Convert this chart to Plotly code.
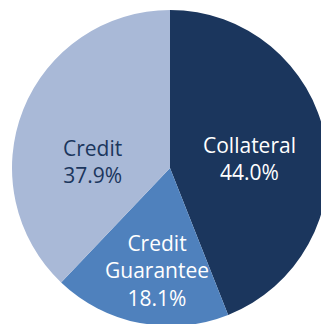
import plotly.graph_objects as go

labels = ["Collateral", "Credit Guarantee", "Credit"]
label_lines = [["Collateral"], ["Credit", "Guarantee"], ["Credit"]]
values = [44.0, 18.1, 37.9]
colors = ["#1b365d", "#4f81bd", "#a9b9d7"]
text_colors = ["#ffffff", "#ffffff", "#1b365d"]

# layout: figure size, margins, and label block centres (pixels in the figure)
W, H = 340, 340
ML, MR, MT, MB = 12, 12, 10, 14
label_px = [(249, 158.5), (157, 270), (92.5, 161)]
FONT_SIZE = 21

fig = go.Figure(go.Pie(
    labels=labels,
    values=values,
    textinfo="none",
    sort=False,
    direction="clockwise",
    rotation=0,
    marker=dict(colors=colors, line=dict(width=0)),
    showlegend=False,
    hoverinfo="label+percent",
))

pw, ph = W - ML - MR, H - MT - MB
for lines, val, col, (px, py) in zip(label_lines, values, text_colors, label_px):
    fig.add_annotation(
        x=(px - ML) / pw, y=1 - (py - MT) / ph,
        xref="paper", yref="paper",
        xanchor="center", yanchor="middle",
        text="<br>".join(lines + [f"{val:.1f}%"]),
        showarrow=False,
        align="center",
        font=dict(color=col, size=FONT_SIZE, family="Open Sans"),
    )

fig.update_layout(
    width=W, height=H,
    margin=dict(l=ML, r=MR, t=MT, b=MB),
    paper_bgcolor="white",
    plot_bgcolor="white",
)

fig.write_html("out.html", post_script="document.body.style.overflow='hidden';document.documentElement.style.overflow='hidden';")
